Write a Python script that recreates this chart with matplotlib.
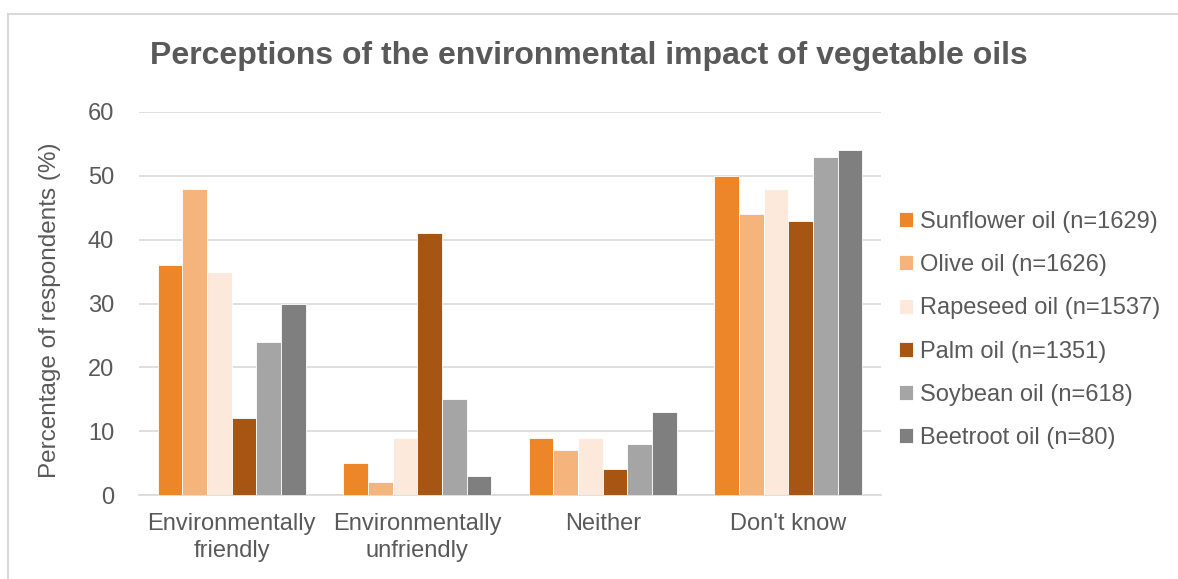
import matplotlib.pyplot as plt
import numpy as np
from matplotlib.lines import Line2D

plt.rcParams['font.family'] = ['Liberation Sans', 'DejaVu Sans']

categories = ["Environmentally\nfriendly", "Environmentally\nunfriendly", "Neither", "Don't know"]
series_names = ["Sunflower oil (n=1629)", "Olive oil (n=1626)", "Rapeseed oil (n=1537)",
                "Palm oil (n=1351)", "Soybean oil (n=618)", "Beetroot oil (n=80)"]
sunflower = [36, 5, 9, 50]
olive = [48, 2, 7, 44]
rapeseed = [35, 9, 9, 48]
palm = [12, 41, 4, 43]
soybean = [24, 15, 8, 53]
beetroot = [30, 3, 13, 54]
colors = ["#ED8628", "#F4B47C", "#FCE9DC", "#A65612", "#A5A5A5", "#7F7F7F"]

values = [sunflower, olive, rapeseed, palm, soybean, beetroot]
grey = "#595959"

fig = plt.figure(figsize=(11.78, 5.79), dpi=100)
ax = fig.add_axes([139 / 1178, 1 - 495 / 579, (881 - 139) / 1178, (495 - 112) / 579])

# chart border (left and top only, the rest is cropped off)
bx, by = 7.5 / 1178, 1 - 13.5 / 579
fig.add_artist(Line2D([bx, bx], [0, by], transform=fig.transFigure, color="#D9D9D9", linewidth=1.5))
fig.add_artist(Line2D([bx, 1], [by, by], transform=fig.transFigure, color="#D9D9D9", linewidth=1.5))

x = np.arange(len(categories))
width = 0.8 / len(values)
for i, (name, vals, c) in enumerate(zip(series_names, values, colors)):
    ax.bar(x - 0.4 + width * (i + 0.5), vals, width, color=c, label=name,
           edgecolor="white", linewidth=0.6, zorder=3)

ax.set_xlim(-0.5, len(categories) - 0.5)
ax.set_ylim(0, 60)
ax.set_yticks(range(0, 61, 10))
ax.yaxis.grid(True, color="#D9D9D9", linewidth=1.2, zorder=0)
for s in ["top", "right", "left"]:
    ax.spines[s].set_visible(False)
ax.spines["bottom"].set_color("#D9D9D9")
ax.spines["bottom"].set_linewidth(1.2)
ax.tick_params(axis="y", length=0, labelsize=17, colors=grey, pad=18)
ax.tick_params(axis="x", length=0, labelsize=17, colors=grey, pad=13)
ax.set_xticks(x)
ax.set_xticklabels(categories, fontsize=17, color=grey, linespacing=1.3)
ax.set_ylabel("Percentage of respondents (%)", fontsize=17.5, color=grey, labelpad=19)
ax.yaxis.label.set_y(0.483)

fig.text(0.5, 1 - 56 / 579, "Perceptions of the environmental impact of vegetable oils",
         ha="center", va="center", fontsize=23, fontweight="bold", color=grey)

leg = ax.legend(loc="center left", bbox_to_anchor=(878 / 1178, 1 - 330 / 579),
                bbox_transform=fig.transFigure, frameon=False, fontsize=17,
                handlelength=0.6, handleheight=0.6, handletextpad=0.3, labelspacing=0.9)
for t in leg.get_texts():
    t.set_color(grey)

fig.savefig("out.png", dpi=100, facecolor="white")
